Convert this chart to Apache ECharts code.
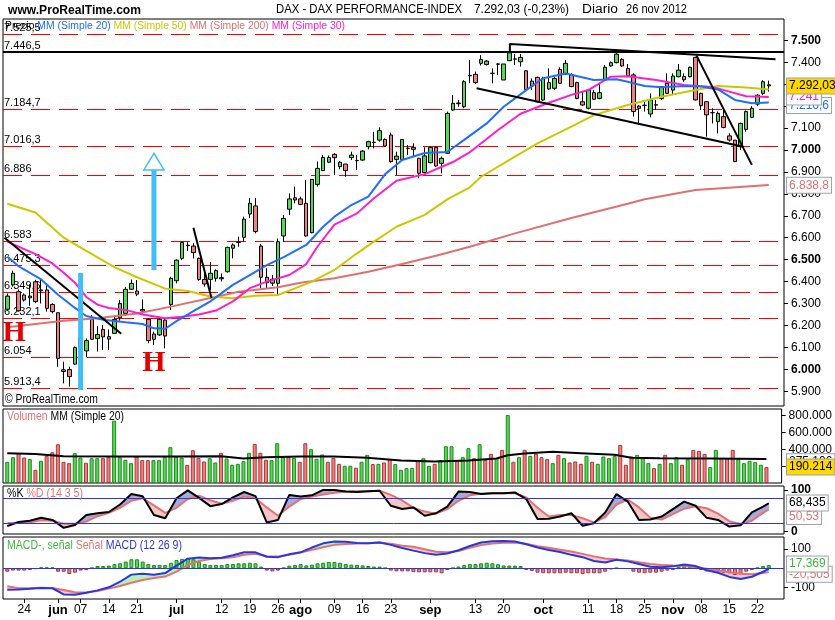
<!DOCTYPE html>
<html>
<head>
<meta charset="UTF-8">
<title>DAX - DAX PERFORMANCE-INDEX</title>
<style>
  html, body { margin:0; padding:0; background:#fff; }
  #main { width:835px; height:620px; }
</style>
</head>
<body>
<div id="main"></div>
<script src="https://cdn.jsdelivr.net/npm/echarts@6.0.0/dist/echarts.min.js"></script>
<script>
// trading days, 21 may - 26 nov 2012
var daysMay = [21,22,23,24,25,28,29,30,31];
var daysJun = [1,4,5,6,7,8,11,12,13,14,15,18,19,20,21,22,25,26,27,28,29];
var daysJul = [2,3,4,5,6,9,10,11,12,13,16,17,18,19,20,23,24,25,26,27,30,31];
var daysAgo = [1,2,3,6,7,8,9,10,13,14,15,16,17,20,21,22,23,24,27,28,29,30,31];
var daysSep = [3,4,5,6,7,10,11,12,13,14,17,18,19,20,21,24,25,26,27,28];
var daysOct = [1,2,3,4,5,8,9,10,11,12,15,16,17,18,19,22,23,24,25,26,29,30,31];
var daysNov = [1,2,5,6,7,8,9,12,13,14,15,16,19,20,21,22,23,26];

// x axis tick labels (index of trading day -> text)
var tickIdx  = [3,9,13,18,23,30,38,43,48,52,58,63,68,75,83,88,95,103,108,113,118,123,128,133];
var tickText = ['24','jun','07','14','21','jul','12','19','26','ago','09','16','23','sep','13','20','oct','11','18','25','nov','08','15','22'];
var monthNames = ['jun','jul','ago','sep','oct','nov'];

// candles
var opens = [
6274,6385,6354,6339,6326,6399,6358,6362,6296,6258,
5998,5999,6024,6100,6084,6228,6141,6182,6149,6164,
6235,6255,6365,6357,6273,6228,6161,6157,6225,6296,
6404,6506,6566,6562,6506,6410,6410,6415,6418,6445,
6552,6580,6602,6708,6745,6562,6420,6393,6392,6608,
6730,6782,6777,6757,6623,6843,6906,6944,6980,6924,
6936,6965,6951,6954,7015,7035,7045,7048,7068,6957,
6957,7008,7003,6962,6897,6942,7012,6939,6985,7182,
7214,7197,7338,7345,7395,7390,7350,7392,7319,7407,
7415,7402,7361,7314,7331,7228,7278,7281,7367,7346,
7342,7307,7220,7190,7261,7235,7319,7383,7398,7413,
7372,7342,7200,7203,7164,7205,7235,7304,7273,7334,
7335,7334,7422,7258,7220,7170,7129,7152,7064,7045,
7015,7094,7149,7209,7258,7297];
var closes = [
6334,6438,6267,6316,6334,6309,6362,6278,6263,6050,
5990,5967,6099,6144,6131,6137,6159,6148,6138,6228,
6300,6365,6392,6343,6266,6131,6137,6228,6152,6415,
6498,6579,6564,6532,6410,6389,6438,6450,6413,6556,
6567,6578,6685,6757,6628,6420,6395,6411,6582,6688,
6777,6772,6752,6608,6866,6916,6966,6966,6965,6944,
6906,6977,6952,6995,7038,7034,7088,7018,6947,6972,
7048,7007,7012,6894,6973,7012,6927,6962,7167,7213,
7211,7311,7340,7307,7413,7405,7349,7391,7392,7443,
7414,7422,7276,7292,7220,7326,7307,7326,7304,7395,
7289,7235,7205,7273,7231,7261,7377,7398,7437,7383,
7337,7175,7190,7204,7228,7206,7289,7258,7337,7364,
7320,7377,7228,7202,7160,7170,7167,7103,7045,6947,
7121,7175,7190,7250,7311,7292];
var lows = [
6268,6377,6263,6309,6290,6302,6300,6263,6255,6012,
5936,5921,6020,6090,6055,6134,6081,6088,6088,6161,
6222,6243,6362,6334,6255,6119,6111,6152,6096,6271,
6392,6498,6540,6505,6404,6377,6362,6400,6400,6441,
6506,6559,6582,6689,6620,6370,6370,6380,6340,6582,
6704,6757,6749,6605,6620,6833,6906,6940,6886,6912,
6878,6954,6909,6950,7003,7007,7038,7015,6942,6886,
6952,6977,6970,6871,6894,6939,6924,6894,6982,7178,
7197,7190,7304,7300,7385,7385,7304,7342,7319,7405,
7387,7380,7273,7273,7216,7223,7273,7273,7301,7342,
7286,7231,7200,7185,7228,7231,7316,7380,7395,7380,
7334,7152,7114,7175,7149,7182,7228,7255,7251,7331,
7311,7331,7226,7182,7061,7121,7076,7099,7038,6945,
7000,7083,7145,7200,7250,7266];
var highs = [
6346,6450,6364,6346,6388,6408,6412,6384,6301,6260,
6035,6012,6104,6160,6141,6248,6197,6202,6182,6240,
6316,6376,6409,6407,6319,6233,6172,6240,6228,6422,
6501,6582,6580,6575,6510,6445,6490,6456,6437,6559,
6574,6605,6696,6780,6780,6572,6461,6430,6597,6704,
6802,6833,6787,6863,6866,6947,6977,6975,6985,6950,
6936,6992,6977,7000,7042,7083,7103,7053,7079,6992,
7050,7023,7030,6962,7012,7015,7015,6970,7175,7251,
7228,7318,7410,7357,7432,7410,7372,7395,7392,7460,
7437,7437,7364,7326,7334,7334,7372,7334,7377,7410,
7349,7311,7266,7276,7273,7304,7387,7403,7443,7418,
7392,7349,7205,7228,7258,7228,7292,7349,7349,7392,
7349,7380,7425,7261,7223,7190,7175,7182,7076,7045,
7125,7180,7200,7255,7318,7316];

// moving averages: [day index, value]
var ma20 = [[0,6514],[2,6470],[6,6410],[9,6340],[12,6280],[14,6243],[17,6226],[21,6215],[24,6207],[26,6187],[28,6185],[30,6220],[33,6265],[36,6310],[40,6385],[43,6430],[46,6475],[49,6512],[53,6567],[56,6650],[58,6696],[61,6749],[64,6787],[67,6890],[70,6954],[74,6986],[78,6991],[81,7046],[85,7121],[88,7197],[92,7273],[95,7327],[99,7349],[104,7319],[108,7322],[110,7311],[113,7292],[116,7286],[120,7292],[123,7289],[126,7276],[129,7228],[132,7213],[135,7216]];
var ma30 = [[0,6582],[5,6525],[8,6483],[10,6440],[12,6395],[14,6330],[16,6295],[18,6280],[21,6271],[24,6250],[28,6233],[31,6240],[34,6250],[37,6268],[40,6310],[43,6370],[46,6400],[50,6430],[53,6480],[55,6560],[58,6660],[62,6711],[65,6780],[69,6860],[74,6890],[79,6945],[82,6990],[87,7091],[91,7165],[96,7215],[100,7251],[103,7273],[107,7334],[110,7336],[115,7319],[120,7296],[125,7287],[128,7266],[131,7245],[135,7242]];
var ma50 = [[0,6755],[5,6715],[10,6600],[15,6525],[19,6466],[23,6420],[28,6368],[32,6357],[36,6332],[40,6324],[44,6335],[48,6339],[51,6369],[54,6400],[58,6453],[62,6529],[65,6582],[69,6650],[74,6704],[78,6775],[82,6830],[84,6878],[90,6970],[94,7030],[100,7106],[104,7159],[110,7205],[116,7243],[122,7273],[126,7292],[131,7285],[135,7276]];
var ma200 = [[0,6192],[10,6222],[16,6233],[23,6255],[29,6286],[35,6320],[41,6354],[48,6374],[52,6395],[58,6415],[64,6445],[70,6480],[76,6518],[82,6559],[90,6620],[100,6690],[110,6755],[113,6775],[122,6818],[135,6840]];

// support / resistance levels
var levels     = [7525.5, 7184.7, 7016.3, 6886, 6583, 6475.3, 6349.6, 6232.1, 6054, 5913.4];
var levelTexts = ['7.525,5','7.184,7','7.016,3','6.886','6.583','6.475,3','6.349,6','6.232,1','6.054','5.913,4'];
var blackLevel = 7446.5;

// hand drawn lines
var trendA = [[-0.5,6600],[20.2,6162]];
var trendB = [[33.0,6645],[36.2,6325]];
var trendC = [[89.1,7446.5],[89.1,7483],[136.2,7413]];
var trendD = [[83.2,7281],[130.5,7015]];
var trendE = [[122.2,7430],[132,6932]];
var blueBar = [[13,5906],[13,6439]];
var blueArrow = [[26,6453],[26,6909]];
var arrowTip = 6985;

// volume (thousands) and colour of each bar (1 green, 0 red)
var volume = [
252,307,355,303,284,157,264,323,366,461,
252,236,355,303,240,295,295,295,307,741,
307,276,236,315,272,272,272,272,315,426,
315,303,213,390,299,256,295,244,359,291,
217,228,260,359,465,359,276,272,473,307,
307,299,252,473,402,288,339,252,299,228,
205,205,181,252,335,225,228,244,284,225,
157,177,180,272,295,205,228,272,437,437,
272,307,414,295,461,276,347,295,394,808,
252,307,394,323,347,307,284,236,335,295,
244,256,228,323,252,228,315,295,323,453,
217,315,335,295,236,177,228,335,236,307,
217,284,394,382,347,189,394,295,295,394,
284,236,264,248,217,190];
var volUp = [
1,1,0,0,1,0,1,0,0,0, 0,0,1,1,0,1,1,0,0,1, 1,1,1,0,0,0,1,1,1,1,
1,1,0,0,0,0,1,1,0,1, 1,1,1,1,0,0,0,1,1,1, 0,1,0,0,1,1,1,0,0,0,
1,1,0,1,1,0,1,0,0,1, 1,1,1,0,1,1,0,1,1,1, 0,1,1,0,1,0,0,1,0,1,
0,1,0,1,0,0,0,1,0,1, 0,0,0,1,0,1,1,1,1,0, 0,0,1,1,1,0,1,0,1,1,
0,1,0,0,0,1,1,0,0,0, 1,1,1,1,1,0];
var volMA = [[0,355],[5,345],[10,318],[20,315],[30,315],[38,318],[42,292],[46,306],[52,315],[58,315],[64,300],[70,268],[76,256],[82,268],[87,292],[89,330],[92,352],[97,372],[102,355],[108,335],[111,300],[116,295],[125,292],[135,285]];

// stochastic and MACD, read every second day
var sampleX = [];
for (var s = 0; s <= 134; s += 2) sampleX.push(s);
sampleX.push(135);
var stochK = [13,23,26,33,28,9,16,40,44,47, 65,90,85,40,32,80,99,81,61,66, 82,95,85,22,28,88,84,87,100,100, 96,95,97,98,62,54,58,38,44,60, 96,95,90,92,92,94,78,30,31,36, 44,14,20,46,90,72,28,29,36,54, 72,62,33,28,12,15,46,60,68];
var stochD = [20,21,22,27,26,19,19,24,37,45, 57,74,80,63,45,57,78,86,75,67, 74,84,80,58,38,60,78,84,89,93, 96,97,97,98,88,75,57,48,43,54, 74,87,91,92,92,92,82,57,36,40, 40,32,22,35,65,77,58,33,29,42, 55,61,56,43,25,18,26,45,53];
var macdLine = [-112,-110,-107,-103,-104,-136,-138,-127,-115,-99, -70,-33,-28,-34,-25,14,50,56,52,55, 68,84,83,60,58,73,83,108,130,139, 138,132,131,134,122,106,92,79,70,77, 94,116,134,141,142,140,125,108,95,85, 70,58,38,30,44,36,22,8,5,10, 20,12,-10,-23,-45,-56,-44,-18,-3];
var signalLine = [-94,-104,-104,-102,-103,-113,-125,-126,-118,-106, -92,-75,-61,-51,-43,-17,17,38,48,52, 58,70,76,63,61,71,82,96,110,122, 127,129,131,134,128,118,112,99,86,83, 90,107,121,129,133,134,128,115,107,97, 87,75,62,51,46,40,31,22,17,14, 12,7,-2,-12,-20,-28,-31,-25,-20];
var macdHist = [
-18,-12,-12,-12,-9,-3,5,5,5,-18, -18,-30,-23,-12,-9,3,12,12,14,22,
26,35,47,47,35,22,17,17,17,29, 43,49,52,47,35,22,17,17,17,22,
22,26,26,29,26,9,-12,-16,-12,3, 14,17,22,15,19,26,29,33,33,29,
22,19,17,15,12,9,9,2,-12,-16, -16,-16,-20,-21,-21,-21,-21,-26,-9,2,
9,17,22,22,26,29,26,21,15,14, 14,12,-9,-14,-23,-26,-26,-26,-26,-23,
-26,-26,-30,-26,-26,-26,-18,-5,2,-2, -3,-18,-23,-26,-23,-23,-18,-12,-9,9,
14,14,9,-9,-16,-18,-18,-23,-26,-35, -30,-18,-9,3,12,17];

var priceTicks = [5900,6000,6100,6200,6300,6400,6500,6600,6700,6800,6900,7000,7100,7200,7300,7400,7500];

// ---------------------------------------------------------------
var FONT = '"Liberation Sans", Arial, sans-serif';
var GREEN = '#52DA52', RED = '#F08080', GREEN_B = '#1F8A1F', RED_B = '#A83838';
var C20 = '#1E6EFF', C30 = '#FF1ECB', C50 = '#CCC800', C200 = '#E07070';
var SALMON = '#E47272', BLUE = '#2A36E0', LIGHTBLUE = '#42BEF6';

var dates = [];
[['may',daysMay],['jun',daysJun],['jul',daysJul],['ago',daysAgo],['sep',daysSep],['oct',daysOct],['nov',daysNov]].forEach(function (m) {
  m[1].forEach(function (d) { dates.push(d + ' ' + m[0] + ' 2012'); });
});

function thou(v) {
  var n = Math.round(Math.abs(v));
  return (v < 0 ? '-' : '') + String(n).replace(/\B(?=(\d{3})+(?!\d))/g, '.');
}

var chart = echarts.init(document.getElementById('main'));

var X_MIN = -0.76, X_MAX = 137.7;
var gridBox = [[19, 387], [409, 74], [486, 48], [537, 62]];
var grids = gridBox.map(function (g) {
  return { left: 3, right: 51, top: g[0], height: g[1], show: true, borderColor: '#000', borderWidth: 1, backgroundColor: '#fff' };
});

var xAxes = [0, 1, 2, 3].map(function (k) {
  return {
    type: 'value', gridIndex: k, min: X_MIN, max: X_MAX, position: 'bottom',
    axisLine: { show: false, onZero: false }, splitLine: { show: false },
    axisTick: { show: k === 3, customValues: tickIdx, length: 4, lineStyle: { color: '#000' } },
    axisLabel: {
      show: k === 3, customValues: tickIdx, margin: 5, color: '#000', fontFamily: FONT, fontSize: 12,
      formatter: function (v) {
        var t = tickText[tickIdx.indexOf(Math.round(v))] || '';
        return monthNames.indexOf(t) >= 0 ? '{m|' + t + '}' : t;
      },
      rich: { m: { fontWeight: 'bold', fontSize: 13, fontFamily: FONT, color: '#000' } }
    }
  };
});

function yAx(g, min, max, ticks, fmt, rich) {
  return {
    type: 'value', gridIndex: g, position: 'right', min: min, max: max, scale: true,
    axisLine: { show: false, onZero: false }, splitLine: { show: false },
    axisTick: { show: true, customValues: ticks, length: 4, lineStyle: { color: '#000' } },
    axisLabel: { customValues: ticks, margin: 7, color: '#000', fontFamily: FONT, fontSize: 12, formatter: fmt, rich: rich }
  };
}

var boldRich = { b: { fontWeight: 'bold', fontFamily: FONT, fontSize: 12, color: '#000' } };
var yAxes = [
  yAx(0, 5833, 7597, priceTicks, function (v) { return v % 500 === 0 ? '{b|' + thou(v) + '}' : thou(v); }, boldRich),
  yAx(1, 0, 880000, [200000, 400000, 600000, 800000], function (v) { return thou(v); }),
  yAx(2, -5.8, 109.4, [0, 100], function (v) { return '{b|' + v + '}'; }, boldRich),
  yAx(3, -160, 163, [-100, 100], function (v) { return String(v); })
];

function lineS(g, data, color, width, z) {
  return { type: 'line', xAxisIndex: g, yAxisIndex: g, data: data, symbol: 'none', silent: true, z: z || 3,
    lineStyle: { color: color, width: width }, itemStyle: { color: color } };
}

function band(xs, a, b, upFill, downFill, g) {
  var data = [];
  for (var k = 0; k < xs.length - 1; k++) data.push([xs[k], a[k], b[k], xs[k + 1], a[k + 1], b[k + 1]]);
  return {
    type: 'custom', xAxisIndex: g, yAxisIndex: g, silent: true, z: 1, clip: true,
    encode: { x: [0, 3], y: [1, 2, 4, 5] },
    renderItem: function (params, api) {
      var x0 = api.value(0), a0 = api.value(1), b0 = api.value(2);
      var x1 = api.value(3), a1 = api.value(4), b1 = api.value(5);
      var d0 = a0 - b0, d1 = a1 - b1, polys = [];
      if (d0 * d1 < 0) {
        var t = d0 / (d0 - d1), xc = x0 + t * (x1 - x0), yc = a0 + t * (a1 - a0);
        polys.push([[[x0, a0], [xc, yc], [x0, b0]], d0 > 0]);
        polys.push([[[xc, yc], [x1, a1], [x1, b1]], d1 > 0]);
      } else {
        polys.push([[[x0, a0], [x1, a1], [x1, b1], [x0, b0]], d0 + d1 > 0]);
      }
      return {
        type: 'group',
        children: polys.map(function (p) {
          var c = p[1] ? upFill : downFill;
          return { type: 'polygon', shape: { points: p[0].map(function (q) { return api.coord(q); }) },
            style: { fill: c, stroke: c, lineWidth: 0.6 } };
        })
      };
    },
    data: data
  };
}

var candleData = opens.map(function (o, i) { return [i, o, closes[i], lows[i], highs[i]]; });
var volData = volume.map(function (v, i) {
  return { value: [i, v * 1000], itemStyle: { color: volUp[i] ? GREEN : RED, borderColor: volUp[i] ? GREEN_B : RED_B, borderWidth: 1 } };
});
var histData = macdHist.map(function (v, i) {
  return { value: [i, v], itemStyle: { color: v >= 0 ? GREEN : RED, borderColor: v >= 0 ? GREEN_B : RED_B, borderWidth: 1 } };
});
function pairs(xs, ys) { return xs.map(function (x, k) { return [x, ys[k]]; }); }

var levelLines = levels.map(function (v, k) {
  return { yAxis: v, lineStyle: { color: '#FF0000', type: [19, 9], width: 1 }, label: { formatter: levelTexts[k] } };
});
levelLines.push({ yAxis: blackLevel, lineStyle: { color: '#000', type: 'solid', width: 2 }, label: { formatter: '7.446,5' } });

var series = [
  {
    type: 'candlestick', name: 'DAX', xAxisIndex: 0, yAxisIndex: 0, z: 2,
    encode: { x: 0, y: [1, 2, 3, 4] },
    data: candleData, barWidth: 4, silent: true,
    itemStyle: { color: GREEN, color0: RED, borderColor: '#000', borderColor0: '#000', borderColorDoji: '#000', borderWidth: 1 },
    markLine: {
      silent: true, symbol: 'none', animation: false, z: 1,
      label: { show: true, position: 'insideStartTop', distance: 1, color: '#000', fontFamily: FONT, fontSize: 11 },
      data: levelLines
    }
  },
  lineS(0, ma200, C200, 2),
  lineS(0, ma50, C50, 2),
  lineS(0, ma30, C30, 2),
  lineS(0, ma20, C20, 2),
  lineS(0, trendA, '#000', 2, 4),
  lineS(0, trendB, '#000', 2, 4),
  lineS(0, trendC, '#000', 2, 4),
  lineS(0, trendD, '#000', 2, 4),
  lineS(0, trendE, '#000', 2, 4),
  lineS(0, blueBar, LIGHTBLUE, 5, 5),
  lineS(0, blueArrow, LIGHTBLUE, 5, 5),
  { type: 'bar', xAxisIndex: 1, yAxisIndex: 1, data: volData, barWidth: 4, silent: true, z: 2 },
  lineS(1, volMA.map(function (p) { return [p[0], p[1] * 1000]; }), '#000', 2),
  band(sampleX, stochK, stochD, '#A9A9D6', '#F5C6C6', 2),
  {
    type: 'line', xAxisIndex: 2, yAxisIndex: 2, data: pairs(sampleX, stochD), symbol: 'none', silent: true, z: 3,
    lineStyle: { color: SALMON, width: 2 },
    markLine: { silent: true, symbol: 'none', label: { show: false }, lineStyle: { color: BLUE, type: 'solid', width: 1 }, data: [{ yAxis: 20 }, { yAxis: 80 }] }
  },
  lineS(2, pairs(sampleX, stochK), '#000', 2, 4),
  band(sampleX, macdLine, signalLine, '#B6F2B6', '#F5C6C6', 3),
  {
    type: 'bar', xAxisIndex: 3, yAxisIndex: 3, data: histData, barWidth: 4, silent: true, z: 2,
    markLine: { silent: true, symbol: 'none', label: { show: false }, lineStyle: { color: BLUE, type: 'solid', width: 1 }, data: [{ yAxis: 0 }] }
  },
  lineS(3, pairs(sampleX, signalLine), SALMON, 2, 3),
  lineS(3, pairs(sampleX, macdLine), BLUE, 2, 4)
];

chart.setOption({
  animation: false,
  backgroundColor: '#fff',
  textStyle: { fontFamily: FONT },
  grid: grids,
  xAxis: xAxes,
  yAxis: yAxes,
  series: series
});

// ---------------- texts, annotations and value boxes ----------------
var mctx = document.createElement('canvas').getContext('2d');
function widthOf(str, font) { mctx.font = font; return mctx.measureText(str).width; }

function row(x, y, parts, total, font) {
  var gap = widthOf(' ', font), natural = 0, out = [];
  parts.forEach(function (p, k) { natural += widthOf(p[0], font) + (k ? gap : 0); });
  var sc = total ? total / natural : 1, cx = x;
  parts.forEach(function (p, k) {
    if (k) cx += gap * sc;
    out.push({ type: 'text', x: cx, y: y, scaleX: sc, z: 100, silent: true,
      style: { text: p[0], font: font, fill: p[1], verticalAlign: 'middle' } });
    cx += widthOf(p[0], font) * sc;
  });
  return out;
}

function px(g, x, y) { return chart.convertToPixel({ gridIndex: g }, [x, y]); }

function valBox(g, val, text, fill, bg, dy) {
  var y = px(g, 135, val)[1] + (dy || 0);
  return { type: 'text', x: 787, y: y, z: 120, silent: true,
    style: { text: text, font: '12px ' + FONT, fill: fill, backgroundColor: bg, borderColor: '#9AA2AC', borderWidth: 1,
      padding: [2, 2, 1, 2], verticalAlign: 'middle' } };
}

var f12 = '12px ' + FONT, f11 = '11px ' + FONT;
var gfx = [];
gfx = gfx.concat(row(8, 10, [['www.ProRealTime.com', '#000']], 133, 'bold 13px ' + FONT));
gfx = gfx.concat(row(276, 10, [['DAX - DAX PERFORMANCE-INDEX', '#000']], 186, f12));
gfx = gfx.concat(row(474, 10, [['7.292,03 (-0,23%)', '#000']], 95, f12));
gfx = gfx.concat(row(582, 10, [['Diario', '#000']], 36, f12));
gfx = gfx.concat(row(626, 10, [['26 nov 2012', '#000']], 61, f12));
gfx = gfx.concat(row(5, 26, [['Precio', '#000'], ['MM (Simple 20)', C20], ['MM (Simple 50)', C50], ['MM (Simple 200)', C200], ['MM (Simple 30)', C30]], 340, f11));
gfx = gfx.concat(row(7, 417, [['Volumen', SALMON], ['MM (Simple 20)', '#000']], 117, f12));
gfx = gfx.concat(row(7, 494, [['%K', '#000'], ['%D (14 3 5)', SALMON]], 76, f12));
gfx = gfx.concat(row(7, 546, [['MACD-, señal', '#3CB83C'], ['Señal', SALMON], ['MACD (12 26 9)', BLUE]], 175, f12));
gfx = gfx.concat(row(5, 400, [['© ProRealTime.com', '#000']], 93, f12));

// red H marks
[[1.2, 6166], [26.0, 6029]].forEach(function (h) {
  var p = px(0, h[0], h[1]);
  gfx.push({ type: 'text', x: p[0], y: p[1], z: 110, silent: true,
    style: { text: 'H', font: 'bold 30px "Liberation Serif", "Times New Roman", serif', fill: '#E40000', align: 'center', verticalAlign: 'middle' } });
});

// arrow head
var tip = px(0, blueArrow[1][0], arrowTip);
var bl = px(0, blueArrow[1][0] - 1.8, blueArrow[1][1]);
var br = px(0, blueArrow[1][0] + 1.8, blueArrow[1][1]);
gfx.push({ type: 'polygon', z: 110, silent: true, shape: { points: [tip, bl, br] }, style: { fill: '#fff', stroke: LIGHTBLUE, lineWidth: 1.5 } });

// value boxes on the right
gfx.push(valBox(0, 7216.6, '7.216,6', C20, '#fff', 3));
gfx.push(valBox(0, 7241, '7.241', C30, '#fff'));
gfx.push(valBox(0, 7292.03, '7.292,03', '#000', '#FFD800'));
gfx.push(valBox(0, 6838.8, '6.838,8', C200, '#fff'));
gfx.push(valBox(1, 275106, '275.106', '#000', '#fff', 2));
gfx.push(valBox(1, 190214, '190.214', '#000', '#FFD800'));
gfx.push(valBox(2, 50.53, '50,53', SALMON, '#fff', 6));
gfx.push(valBox(2, 68.435, '68,435', '#000', '#fff'));
gfx.push(valBox(3, -20.505, '-20,505', SALMON, '#fff', 2));
gfx.push(valBox(3, 17.369, '17,369', '#3CB83C', '#fff', -1));

chart.setOption({ graphic: gfx });
</script>
</body>
</html>
